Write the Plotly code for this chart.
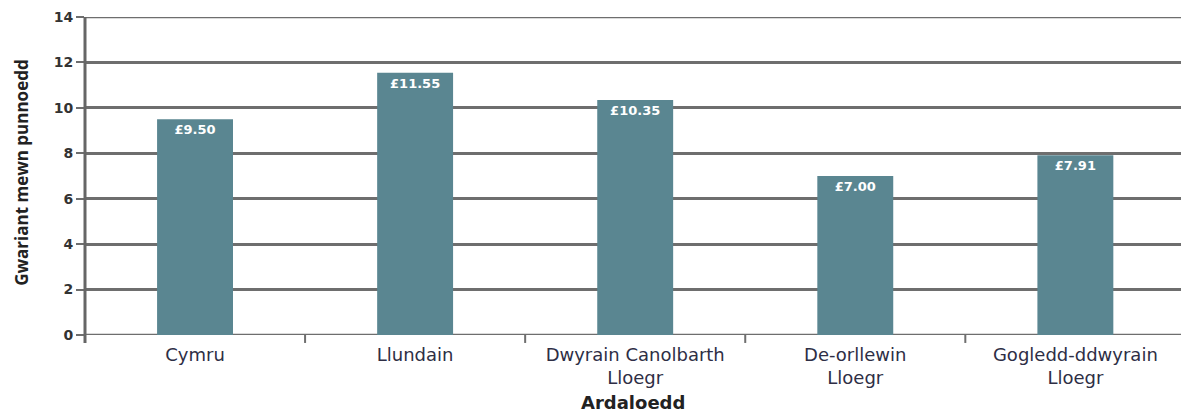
import plotly.graph_objects as go

categories = ["Cymru", "Llundain", "Dwyrain Canolbarth<br>Lloegr", "De-orllewin<br>Lloegr", "Gogledd-ddwyrain<br>Lloegr"]
values = [9.50, 11.55, 10.35, 7.00, 7.91]
value_labels = ["£9.50", "£11.55", "£10.35", "£7.00", "£7.91"]
y_ticks = [0, 2, 4, 6, 8, 10, 12, 14]
y_title = "Gwariant mewn punnoedd"
x_title = "Ardaloedd"

GRID = "#6e6e6e"

fig = go.Figure()
fig.add_trace(go.Bar(
    x=list(range(len(categories))),
    y=values,
    text=value_labels,
    textposition="inside",
    insidetextanchor="end",
    textfont=dict(family="DejaVu Sans", size=13, color="white", weight="bold"),
    marker=dict(color="#5a8691", line=dict(width=0)),
    width=0.345,
    hoverinfo="skip",
))

fig.update_layout(
    width=1181, height=414,
    margin=dict(l=85, r=0, t=17, b=79),
    paper_bgcolor="white", plot_bgcolor="white",
    showlegend=False,
    uniformtext=dict(minsize=13, mode="show"),
    xaxis=dict(
        range=[-0.5, 4.48],
        tickmode="array",
        tickvals=list(range(len(categories))),
        ticktext=categories,
        ticks="outside",
        ticklen=3,
        tickcolor="rgba(0,0,0,0)",
        showgrid=False,
        showline=False,
        zeroline=False,
        automargin=False,
        tickfont=dict(family="DejaVu Sans", size=18, color="#2e2e45"),
        fixedrange=True,
    ),
    yaxis=dict(
        range=[0, 14],
        tickvals=y_ticks,
        ticks="outside",
        ticklen=8,
        tickwidth=2,
        tickcolor=GRID,
        showgrid=True,
        gridcolor=GRID,
        gridwidth=2.5,
        showline=False,
        zeroline=False,
        automargin=False,
        tickfont=dict(family="DejaVu Sans", size=14, color="#333", weight="bold"),
        fixedrange=True,
    ),
)

# top and bottom horizontal lines (14 and 0)
for yv in (y_ticks[0], y_ticks[-1]):
    fig.add_shape(type="line", xref="paper", yref="y", x0=0, x1=1, y0=yv, y1=yv,
                  line=dict(color=GRID, width=2.5), layer="below")

# y axis line, extending slightly below zero
fig.add_shape(type="line", xref="paper", yref="paper", x0=0, x1=0, y0=-0.025, y1=1,
              line=dict(color="#666", width=3))

# x tick marks between categories
for i in range(len(categories)):
    b = i + 0.5
    fig.add_shape(type="line", xref="x", yref="paper", x0=b, x1=b, y0=0, y1=-0.025,
                  line=dict(color=GRID, width=2))

fig.add_annotation(text="<b>" + y_title + "</b>", xref="paper", yref="paper",
                   x=0, y=0.51, xanchor="center", yanchor="middle", xshift=-63,
                   textangle=-90, showarrow=False,
                   font=dict(family="Open Sans", size=17, color="#222"))
fig.add_annotation(text="<b>" + x_title + "</b>", xref="paper", yref="paper",
                   x=0.5, y=-0.211, xanchor="center", yanchor="middle",
                   showarrow=False,
                   font=dict(family="DejaVu Sans", size=18, color="#222"))

fig.write_html(
    "out.html",
    config={"displayModeBar": False},
    post_script="document.body.style.margin='0';document.body.style.overflow='hidden';",
)
